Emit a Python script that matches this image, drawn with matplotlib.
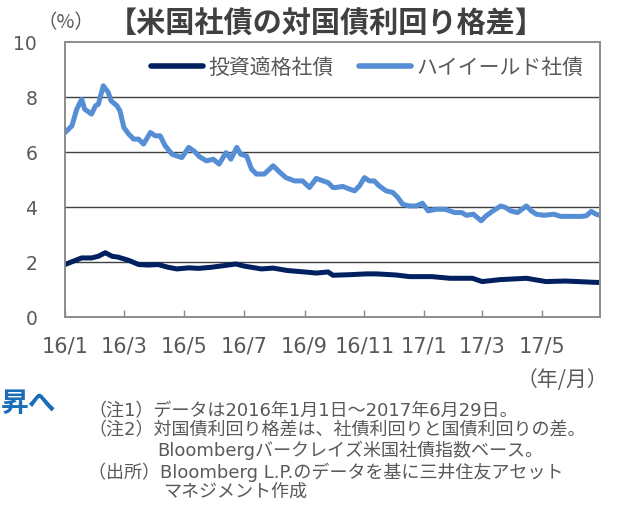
import matplotlib
matplotlib.use("Agg")
import matplotlib.pyplot as plt
import matplotlib.dates as mdates
import numpy as np
import pandas as pd

plt.rcParams['font.family'] = ['Noto Sans CJK JP', 'DejaVu Sans']
MIX = ['DejaVu Sans', 'Noto Sans CJK JP']

# ---- data ----
hy_dates = ["2016-01-01", "2016-01-08", "2016-01-13", "2016-01-18", "2016-01-21", "2016-01-28",
            "2016-02-01", "2016-02-04", "2016-02-09", "2016-02-14", "2016-02-17", "2016-02-23",
            "2016-02-26", "2016-03-01", "2016-03-06", "2016-03-11", "2016-03-16", "2016-03-21",
            "2016-03-28", "2016-04-02", "2016-04-07", "2016-04-12", "2016-04-19", "2016-04-24",
            "2016-04-29", "2016-05-06", "2016-05-12", "2016-05-17", "2016-05-24", "2016-05-31",
            "2016-06-06", "2016-06-13", "2016-06-18", "2016-06-24", "2016-06-28", "2016-07-04",
            "2016-07-09", "2016-07-14", "2016-07-22", "2016-07-31", "2016-08-07", "2016-08-13",
            "2016-08-22", "2016-08-30", "2016-09-06", "2016-09-13", "2016-09-20", "2016-09-25",
            "2016-09-30", "2016-10-03", "2016-10-10", "2016-10-17", "2016-10-22", "2016-10-27",
            "2016-11-01", "2016-11-06", "2016-11-11", "2016-11-16", "2016-11-23", "2016-11-30",
            "2016-12-05", "2016-12-10", "2016-12-17", "2016-12-24", "2016-12-30", "2017-01-05",
            "2017-01-13", "2017-01-22", "2017-01-27", "2017-02-01", "2017-02-08", "2017-02-13",
            "2017-02-20", "2017-02-28", "2017-03-05", "2017-03-12", "2017-03-20", "2017-03-25",
            "2017-03-30", "2017-04-06", "2017-04-15", "2017-04-20", "2017-04-25", "2017-05-03",
            "2017-05-13", "2017-05-20", "2017-05-30", "2017-06-10", "2017-06-15", "2017-06-20",
            "2017-06-25", "2017-06-29"]
hy_values = [6.69, 6.93, 7.54, 7.90, 7.54, 7.36,
             7.66, 7.72, 8.39, 8.15, 7.84, 7.66,
             7.48, 6.87, 6.63, 6.45, 6.45, 6.27,
             6.69, 6.57, 6.57, 6.21, 5.90, 5.84,
             5.78, 6.15, 6.00, 5.81, 5.66, 5.72,
             5.54, 5.96, 5.72, 6.15, 5.90, 5.84,
             5.36, 5.18, 5.18, 5.48, 5.24, 5.05,
             4.93, 4.93, 4.69, 5.02, 4.93, 4.87,
             4.69, 4.69, 4.73, 4.63, 4.57, 4.75,
             5.05, 4.93, 4.93, 4.75, 4.57, 4.51,
             4.33, 4.08, 4.02, 4.02, 4.12, 3.84,
             3.90, 3.90, 3.84, 3.78, 3.78, 3.68,
             3.72, 3.48, 3.66, 3.84, 4.02, 3.96,
             3.84, 3.78, 4.02, 3.84, 3.72, 3.68,
             3.72, 3.64, 3.64, 3.64, 3.66, 3.82,
             3.72, 3.68]

ig_dates = ["2016-01-01", "2016-01-08", "2016-01-18", "2016-01-28", "2016-02-04", "2016-02-11",
            "2016-02-18", "2016-02-24", "2016-03-06", "2016-03-16", "2016-03-26", "2016-04-05",
            "2016-04-15", "2016-04-24", "2016-05-06", "2016-05-16", "2016-05-29", "2016-06-15",
            "2016-06-23", "2016-07-02", "2016-07-19", "2016-07-31", "2016-08-15", "2016-09-01",
            "2016-09-13", "2016-09-25", "2016-09-30", "2016-10-17", "2016-11-03", "2016-11-13",
            "2016-12-03", "2016-12-17", "2017-01-09", "2017-01-27", "2017-02-19", "2017-03-01",
            "2017-03-19", "2017-04-15", "2017-05-05", "2017-05-25", "2017-06-25", "2017-06-29"]
ig_values = [1.89, 1.99, 2.13, 2.13, 2.19, 2.32,
             2.19, 2.16, 2.04, 1.89, 1.87, 1.89,
             1.79, 1.73, 1.77, 1.75, 1.79, 1.87,
             1.91, 1.83, 1.73, 1.76, 1.67, 1.62,
             1.58, 1.62, 1.50, 1.52, 1.55, 1.55,
             1.51, 1.45, 1.45, 1.39, 1.39, 1.27,
             1.34, 1.39, 1.27, 1.29, 1.24, 1.24]

series_names = ["投資適格社債", "ハイイールド社債"]
tick_dates = ["2016-01-01", "2016-03-01", "2016-05-01", "2016-07-01", "2016-09-01",
              "2016-11-01", "2017-01-01", "2017-03-01", "2017-05-01"]
tick_labels = ["16/1", "16/3", "16/5", "16/7", "16/9", "16/11", "17/1", "17/3", "17/5"]
y_ticks = [0, 2, 4, 6, 8, 10]

title = "【米国社債の対国債利回り格差】"
notes = [
    ("（注1）データは2016年1月1日～2017年6月29日。", 88, 411),
    ("（注2）対国債利回り格差は、社債利回りと国債利回りの差。", 88, 430),
    ("Bloombergバークレイズ米国社債指数ベース。", 157, 450),
    ("（出所）Bloomberg L.P.のデータを基に三井住友アセット", 88, 472),
    ("マネジメント作成", 163, 492),
]

# ---- figure ----
W, H = 627, 506
fig = plt.figure(figsize=(W / 100, H / 100), dpi=100)
ax = fig.add_axes([65 / W, 1 - 317.5 / H, 535 / W, 275 / H])

navy = "#002060"
light = "#558ED5"
gray_txt = "#595959"

ax.plot(pd.to_datetime(ig_dates), ig_values, color=navy, lw=3.6,
        solid_capstyle="round", solid_joinstyle="round", label=series_names[0])
ax.plot(pd.to_datetime(hy_dates), hy_values, color=light, lw=3.6,
        solid_capstyle="round", solid_joinstyle="round", label=series_names[1])

ax.set_xlim(pd.Timestamp("2016-01-01"), pd.Timestamp("2017-06-29"))
ax.set_ylim(0, 10)
ax.set_yticks(y_ticks)
ax.set_yticklabels([str(v) for v in y_ticks], family=MIX)
ax.set_xticks(pd.to_datetime(tick_dates))
ax.set_xticklabels(tick_labels, family=MIX)

for v in y_ticks[1:-1]:
    ax.axhline(v, color="#404040", lw=1.0, zorder=0)

for s in ax.spines.values():
    s.set_color("#8c8c8c")
    s.set_linewidth(1.4)

ax.tick_params(axis="y", length=0, pad=20, labelsize=13.5, labelcolor=gray_txt)
ax.tick_params(axis="x", direction="in", length=5, width=1, color="#8c8c8c",
               pad=14, labelsize=15, labelcolor=gray_txt)

leg = ax.legend(loc="center", bbox_to_anchor=(0.565, 0.907), ncol=2, frameon=False,
                fontsize=15, handlelength=2.5, handletextpad=0.25, columnspacing=1.2,
                labelcolor=gray_txt)
for l in leg.get_lines():
    l.set_linewidth(4)

# texts
fig.text(326 / W, 1 - 24 / H, title, ha="center", va="center", fontsize=21,
         fontweight="bold", color="#404040")
fig.text(66 / W, 1 - 23 / H, "（%）", ha="center", va="center", fontsize=14, color=gray_txt)
fig.text(608 / W, 1 - 380 / H, "（年/月）", ha="right", va="center", fontsize=15, color=gray_txt)
fig.text(1 / W, 1 - 404 / H, "昇へ", ha="left", va="center", fontsize=20,
         fontweight="bold", color="#1A6EB8")
for txt, x, y in notes:
    fig.text(x / W, 1 - y / H, txt, ha="left", va="center", fontsize=13,
             color=gray_txt, family=MIX)

fig.savefig("out.png", dpi=100)
